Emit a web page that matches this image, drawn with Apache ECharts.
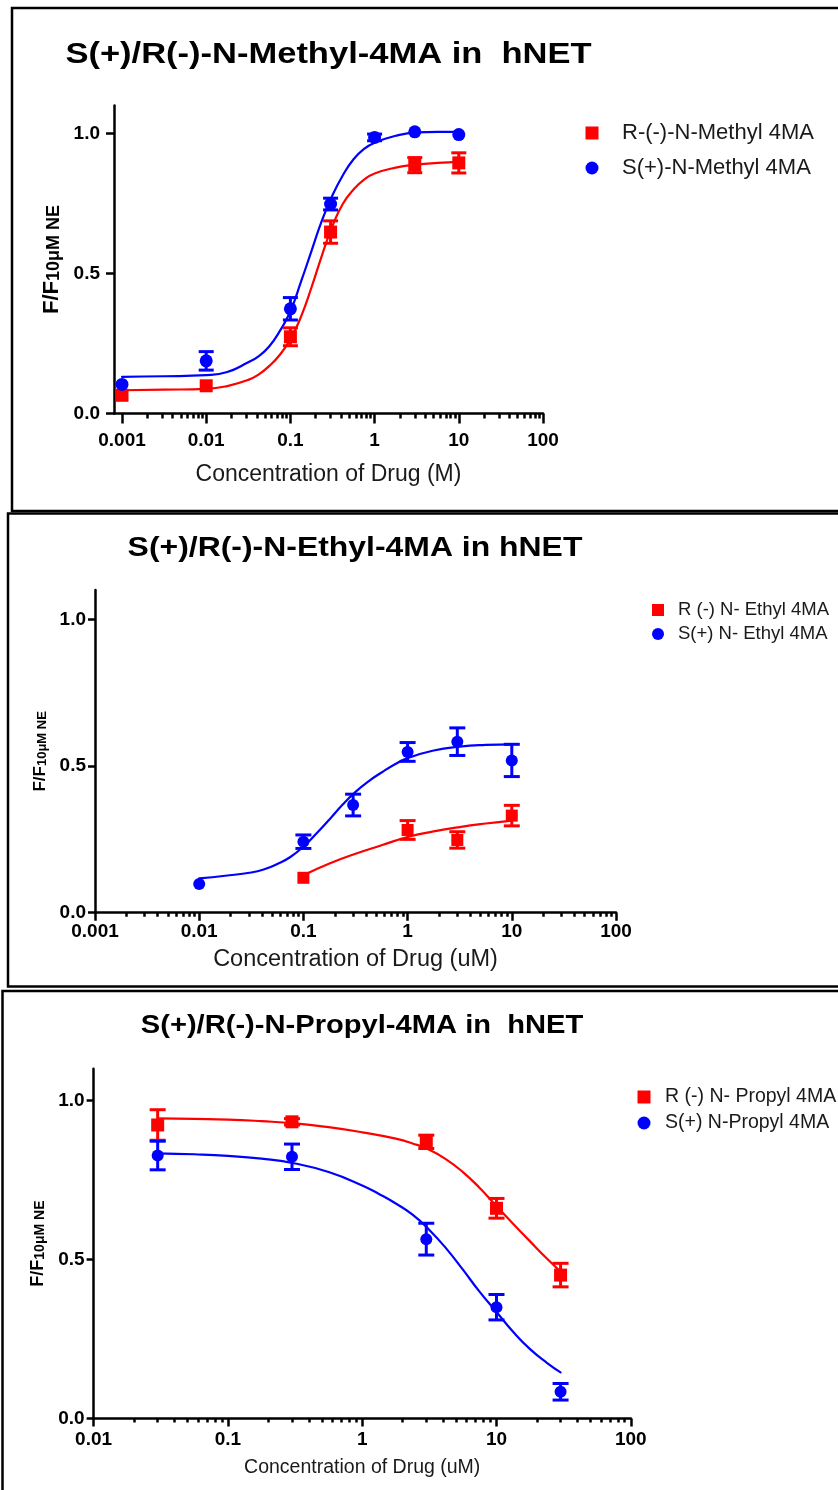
<!DOCTYPE html>
<html>
<head>
<meta charset="utf-8">
<script src="https://cdn.jsdelivr.net/npm/echarts@6/dist/echarts.min.js"></script>
<style>html,body{margin:0;padding:0;background:#fff}#c{width:838px;height:1490px}</style>
</head>
<body>
<div id="c"></div>
<script>
// ---------- DATA ----------
// Panel 1: N-Methyl (concentrations, measured means, SEM)
const p1RConc = [0.001, 0.01, 0.1, 0.3, 3, 10];
const p1RVal  = [0.065, 0.099, 0.274, 0.648, 0.887, 0.895];
const p1RErr  = [0, 0, 0.032, 0.040, 0.027, 0.036];
const p1SConc = [0.001, 0.01, 0.1, 0.3, 1, 3, 10];
const p1SVal  = [0.104, 0.188, 0.374, 0.748, 0.986, 1.006, 0.996];
const p1SErr  = [0, 0.033, 0.040, 0.021, 0.012, 0, 0];
// fitted curves (x = log10 concentration)
const p1RFitLog = [-3, -2.5, -2, -1.75, -1.5, -1.375, -1.25, -1.125, -1.0, -0.875, -0.75, -0.625, -0.5, -0.375, -0.25, -0.125, 0, 0.25, 0.5, 0.75, 1.0];
const p1RFitVal = [0.083, 0.085, 0.088, 0.098, 0.12, 0.14, 0.17, 0.21, 0.265, 0.345, 0.45, 0.565, 0.67, 0.75, 0.80, 0.835, 0.857, 0.878, 0.889, 0.895, 0.899];
const p1SFitLog = [-3, -2.5, -2, -1.75, -1.5, -1.375, -1.25, -1.125, -1.0, -0.875, -0.75, -0.625, -0.5, -0.375, -0.25, -0.125, 0, 0.25, 0.5, 0.75, 1.0];
const p1SFitVal = [0.131, 0.133, 0.137, 0.148, 0.183, 0.205, 0.24, 0.295, 0.365, 0.47, 0.58, 0.69, 0.78, 0.852, 0.908, 0.945, 0.967, 0.992, 1.004, 1.006, 1.006];

// Panel 2: N-Ethyl
const p2RConc = [0.1, 1, 3, 10];
const p2RVal  = [0.119, 0.282, 0.248, 0.331];
const p2RErr  = [0, 0.032, 0.028, 0.035];
const p2SConc = [0.01, 0.1, 0.3, 1, 3, 10];
const p2SVal  = [0.098, 0.242, 0.367, 0.548, 0.583, 0.519];
const p2SErr  = [0, 0.023, 0.037, 0.032, 0.047, 0.055];
const p2RFitLog = [-1.0, -0.75, -0.5, -0.25, 0, 0.25, 0.5, 0.75, 1.0];
const p2RFitVal = [0.128, 0.168, 0.201, 0.23, 0.258, 0.277, 0.292, 0.304, 0.314];
const p2SFitLog = [-2, -1.75, -1.5, -1.375, -1.25, -1.125, -1.0, -0.875, -0.75, -0.625, -0.5, -0.375, -0.25, -0.125, 0, 0.25, 0.5, 0.75, 1.0];
const p2SFitVal = [0.117, 0.126, 0.137, 0.148, 0.166, 0.19, 0.225, 0.27, 0.318, 0.368, 0.412, 0.448, 0.478, 0.505, 0.527, 0.553, 0.566, 0.572, 0.574];

// Panel 3: N-Propyl
const p3RConc = [0.03, 0.3, 3, 10, 30];
const p3RVal  = [0.923, 0.933, 0.870, 0.661, 0.451];
const p3RErr  = [0.048, 0.01, 0.021, 0.031, 0.037];
const p3SConc = [0.03, 0.3, 3, 10, 30];
const p3SVal  = [0.827, 0.823, 0.564, 0.350, 0.084];
const p3SErr  = [0.045, 0.040, 0.050, 0.040, 0.026];
const p3RFitLog = [-1.523, -1.25, -1.0, -0.75, -0.5, -0.25, 0, 0.25, 0.375, 0.5, 0.625, 0.75, 0.875, 1.0, 1.125, 1.25, 1.375, 1.477];
const p3RFitVal = [0.944, 0.942, 0.94, 0.935, 0.928, 0.916, 0.9, 0.88, 0.865, 0.845, 0.815, 0.775, 0.725, 0.668, 0.612, 0.557, 0.503, 0.462];
const p3SFitLog = [-1.523, -1.25, -1.0, -0.75, -0.5, -0.25, 0, 0.125, 0.25, 0.375, 0.5, 0.625, 0.75, 0.875, 1.0, 1.125, 1.25, 1.375, 1.477];
const p3SFitVal = [0.834, 0.831, 0.826, 0.817, 0.802, 0.775, 0.733, 0.706, 0.676, 0.641, 0.593, 0.535, 0.468, 0.398, 0.335, 0.272, 0.218, 0.175, 0.145];

// Ticks
const p1XTicks = [0.001, 0.01, 0.1, 1, 10, 100];
const p1XTickLabels = ['0.001', '0.01', '0.1', '1', '10', '100'];
const p2XTicks = [0.001, 0.01, 0.1, 1, 10, 100];
const p2XTickLabels = ['0.001', '0.01', '0.1', '1', '10', '100'];
const p3XTicks = [0.01, 0.1, 1, 10, 100];
const p3XTickLabels = ['0.01', '0.1', '1', '10', '100'];
const yTicks = [0, 0.5, 1.0];
const yTickLabels = ['0.0', '0.5', '1.0'];

// Text
const titles = ['S(+)/R(-)-N-Methyl-4MA in  hNET', 'S(+)/R(-)-N-Ethyl-4MA in hNET', 'S(+)/R(-)-N-Propyl-4MA in  hNET'];
const xNames = ['Concentration of Drug (M)', 'Concentration of Drug (uM)', 'Concentration of Drug (uM)'];
const names = [
  ['R-(-)-N-Methyl 4MA', 'S(+)-N-Methyl 4MA'],
  ['R (-) N- Ethyl 4MA', 'S(+) N- Ethyl 4MA'],
  ['R (-) N- Propyl 4MA', 'S(+) N-Propyl 4MA']
];

// ---------- BUILD ----------
const RED = '#ff0000', BLUE = '#0000ff';
const FONT = 'Liberation Sans, Arial, sans-serif';
const lg = Math.log10;

function minorLogs(ticks) {
  const out = [];
  for (let i = 0; i < ticks.length - 1; i++) for (let k = 2; k <= 9; k++) out.push(lg(ticks[i] * k));
  return out;
}
function pts(conc, vals) { return conc.map((c, i) => [lg(c), vals[i]]); }
function errPts(conc, vals, errs) { return conc.map((c, i) => [lg(c), vals[i], errs[i]]); }
function curve(xs, ys) { return xs.map((x, i) => [x, ys[i]]); }

function errRender(capHalf, lw, color) {
  return function (params, api) {
    const x = api.value(0), y = api.value(1), e = api.value(2);
    if (!e) return;
    const t = api.coord([x, y + e]), b = api.coord([x, y - e]);
    const st = { stroke: color, lineWidth: lw };
    return { type: 'group', children: [
      { type: 'line', shape: { x1: t[0], y1: t[1], x2: b[0], y2: b[1] }, style: st },
      { type: 'line', shape: { x1: t[0] - capHalf, y1: t[1], x2: t[0] + capHalf, y2: t[1] }, style: st },
      { type: 'line', shape: { x1: b[0] - capHalf, y1: b[1], x2: b[0] + capHalf, y2: b[1] }, style: st }
    ]};
  };
}

const panels = [
  { grid: { left: 114, top: 105.5, width: 429, height: 308 }, xMin: -3.095, xMax: 2,
    ticks: p1XTicks, labels: p1XTickLabels, majLen: 10, minLen: 5, xLabMargin: 18, yLabMargin: 14, yTickLen: 8,
    xNameSize: 23, xNameGap: 50, yMain: 22, ySub: 18, ySubPad: 16, yNameGap: 49,
    R: [p1RConc, p1RVal, p1RErr, p1RFitLog, p1RFitVal], S: [p1SConc, p1SVal, p1SErr, p1SFitLog, p1SFitVal],
    symR: 13, symS: 13, cap: 7.5,
    legend: { left: 580.5, top: 117, icon: 13, fs: 22, lh: 22, gap: 13, pad: 18.5 } },
  { grid: { left: 95, top: 590, width: 521, height: 322.7 }, xMin: -3, xMax: 2,
    ticks: p2XTicks, labels: p2XTickLabels, majLen: 8, minLen: 4, xLabMargin: 10, yLabMargin: 9, yTickLen: 7,
    xNameSize: 23.5, xNameGap: 35, yMain: 17, ySub: 13, ySubPad: 12, yNameGap: 42,
    R: [p2RConc, p2RVal, p2RErr, p2RFitLog, p2RFitVal], S: [p2SConc, p2SVal, p2SErr, p2SFitLog, p2SFitVal],
    symR: 12, symS: 12, cap: 8,
    legend: { left: 647, top: 595, icon: 12, fs: 18.5, lh: 20, gap: 4, pad: 9 } },
  { grid: { left: 93.6, top: 1068.7, width: 537.2, height: 349.8 }, xMin: -2, xMax: 2,
    ticks: p3XTicks, labels: p3XTickLabels, majLen: 8, minLen: 4, xLabMargin: 12, yLabMargin: 9, yTickLen: 7,
    xNameSize: 19.5, xNameGap: 39, yMain: 18, ySub: 14, ySubPad: 12.5, yNameGap: 46,
    R: [p3RConc, p3RVal, p3RErr, p3RFitLog, p3RFitVal], S: [p3SConc, p3SVal, p3SErr, p3SFitLog, p3SFitVal],
    symR: 13, symS: 12, cap: 8,
    legend: { left: 632.5, top: 1082, icon: 13, fs: 19.5, lh: 20, gap: 6, pad: 9.5 } }
];

const option = { animation: false, backgroundColor: '#fff', textStyle: { fontFamily: FONT },
  grid: [], xAxis: [], yAxis: [], series: [], legend: [], graphic: [] };

const axisLineSt = { show: true, onZero: false, lineStyle: { color: '#000', width: 2.5 } };

panels.forEach((p, i) => {
  option.grid.push(p.grid);
  const majVals = p.ticks.map(lg);
  option.xAxis.push({
    type: 'value', gridIndex: i, position: 'bottom', min: p.xMin, max: p.xMax,
    axisLine: axisLineSt, splitLine: { show: false },
    axisTick: { show: true, length: p.majLen, customValues: majVals, lineStyle: { color: '#000', width: 2.5 } },
    axisLabel: { show: true, customValues: majVals, margin: p.xLabMargin, color: '#000', fontSize: 19, fontWeight: 'bold',
      formatter: (v) => { let k = 0, d = 1e9; majVals.forEach((m, j) => { if (Math.abs(m - v) < d) { d = Math.abs(m - v); k = j; } }); return p.labels[k]; } },
    name: xNames[i], nameLocation: 'middle', nameGap: p.xNameGap,
    nameTextStyle: { fontSize: p.xNameSize, color: '#1a1a1a' }
  });
  option.xAxis.push({
    type: 'value', gridIndex: i, position: 'bottom', min: p.xMin, max: p.xMax,
    axisLine: { show: false, onZero: false }, splitLine: { show: false }, axisLabel: { show: false },
    axisTick: { show: true, length: p.minLen, customValues: minorLogs(p.ticks), lineStyle: { color: '#000', width: 2.5 } }
  });
  option.yAxis.push({
    type: 'value', gridIndex: i, min: 0, max: 1.1,
    axisLine: axisLineSt, splitLine: { show: false },
    axisTick: { show: true, length: p.yTickLen, customValues: yTicks, lineStyle: { color: '#000', width: 2.5 } },
    axisLabel: { customValues: yTicks, margin: p.yLabMargin, color: '#000', fontSize: 19, fontWeight: 'bold',
      formatter: (v) => yTickLabels[yTicks.indexOf(v)] !== undefined ? yTickLabels[yTicks.indexOf(v)] : v.toFixed(1) },
    name: '{a|F/F}{b|10μM NE}', nameLocation: 'middle', nameGap: p.yNameGap,
    nameTextStyle: { rich: {
      a: { fontSize: p.yMain, fontWeight: 'bold', color: '#000', verticalAlign: 'top', lineHeight: p.yMain },
      b: { fontSize: p.ySub, fontWeight: 'bold', color: '#000', verticalAlign: 'bottom', lineHeight: p.ySub, padding: [p.ySubPad, 0, 0, 0] }
    } }
  });
  const xi = i * 2;
  [['R', RED, 'rect', p.symR], ['S', BLUE, 'circle', p.symS]].forEach(([key, col, sym, size], j) => {
    const d = p[key];
    option.series.push({ type: 'line', name: names[i][j] + ' fit', xAxisIndex: xi, yAxisIndex: i,
      data: curve(d[3], d[4]), showSymbol: false, smooth: 0.5,
      lineStyle: { color: col, width: 2.2, cap: 'round', join: 'round' }, itemStyle: { color: col }, z: 2, silent: true });
    option.series.push({ type: 'custom', name: names[i][j] + ' SEM', xAxisIndex: xi, yAxisIndex: i,
      data: errPts(d[0], d[1], d[2]), encode: { x: 0, y: 1 }, renderItem: errRender(p.cap, 3, col), z: 3, silent: true });
    option.series.push({ type: 'scatter', name: names[i][j], xAxisIndex: xi, yAxisIndex: i,
      data: pts(d[0], d[1]), symbol: sym, symbolSize: size, itemStyle: { color: col, opacity: 1 }, z: 4 });
  });
  const L = p.legend;
  option.legend.push({ orient: 'vertical', left: L.left, top: L.top, itemWidth: L.icon, itemHeight: L.icon,
    itemGap: L.gap, selectedMode: false,
    textStyle: { fontSize: L.fs, lineHeight: L.lh, color: '#1a1a1a', padding: [0, 0, 0, L.pad] },
    data: [{ name: names[i][0], icon: 'rect', itemStyle: { color: RED } }, { name: names[i][1], icon: 'circle', itemStyle: { color: BLUE } }] });
});

// frames and titles
option.graphic = [
  { type: 'rect', shape: { x: 12, y: 8, width: 1000, height: 503 }, style: { fill: 'none', stroke: '#000', lineWidth: 2.5 }, silent: true },
  { type: 'rect', shape: { x: 8, y: 513.5, width: 1000, height: 473 }, style: { fill: 'none', stroke: '#000', lineWidth: 2.5 }, silent: true },
  { type: 'rect', shape: { x: 2.5, y: 991, width: 1000, height: 700 }, style: { fill: 'none', stroke: '#000', lineWidth: 2.5 }, silent: true },
  { type: 'text', x: 328.5, y: 55, scaleX: 1.15, style: { text: titles[0], font: 'bold 30px ' + FONT, fill: '#000', align: 'center', verticalAlign: 'middle' } },
  { type: 'text', x: 355, y: 548, scaleX: 1.14, style: { text: titles[1], font: 'bold 28px ' + FONT, fill: '#000', align: 'center', verticalAlign: 'middle' } },
  { type: 'text', x: 362, y: 1026, scaleX: 1.12, style: { text: titles[2], font: 'bold 26px ' + FONT, fill: '#000', align: 'center', verticalAlign: 'middle' } }
];

const chart = echarts.init(document.getElementById('c'), null, { renderer: 'canvas' });
chart.setOption(option);
</script>
</body>
</html>
